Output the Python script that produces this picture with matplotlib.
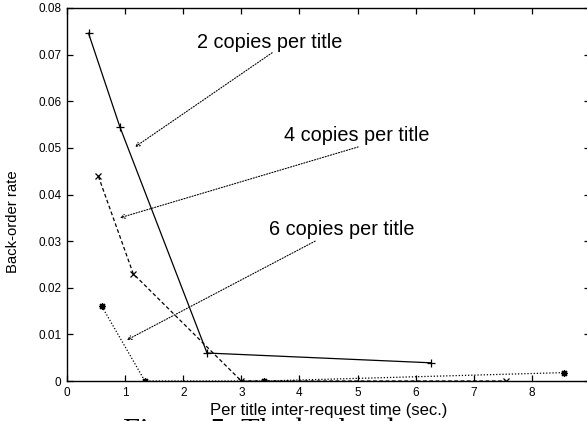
import matplotlib
matplotlib.use("Agg")
import matplotlib.pyplot as plt

plt.rcParams['font.family'] = ['Liberation Sans', 'DejaVu Sans']

# back-order rate vs. per-title inter-request time, for 2/4/6 copies per title
x_2copies = [0.37, 0.91, 2.41, 6.27]
y_2copies = [0.0746, 0.0545, 0.0060, 0.0039]

x_4copies = [0.54, 1.14, 3.0, 7.55]
y_4copies = [0.0439, 0.0230, 0.0, 0.0]

x_6copies = [0.60, 1.34, 3.39, 8.55]
y_6copies = [0.0160, 0.0, 0.0, 0.0018]

labels = ['2 copies per title', '4 copies per title', '6 copies per title']
label_xy = [(3.49, 0.0727), (4.99, 0.0526), (4.72, 0.0326)]
arrow_tail = [(3.53, 0.0704), (5.01, 0.0502), (4.27, 0.0300)]
arrow_head = [(1.17, 0.0502), (0.91, 0.0350), (1.03, 0.0088)]

xticks = [0, 1, 2, 3, 4, 5, 6, 7, 8]
yticks = [0, 0.01, 0.02, 0.03, 0.04, 0.05, 0.06, 0.07, 0.08]

fig = plt.figure(figsize=(5.87, 4.21), dpi=100)
ax = fig.add_axes([67/587, 40/421, 523/587, 373/421])

ax.plot(x_2copies, y_2copies, color='black', lw=0.9, ls='-',
        marker='+', ms=6, mew=0.9)
ax.plot(x_4copies, y_4copies, color='black', lw=0.9, ls=(0, (3, 2)),
        marker='x', ms=4.5, mew=0.9)
ax.plot(x_6copies, y_6copies, color='black', lw=0.9, ls=(0, (1, 1.5)),
        marker=(8, 2, 0), ms=5, mew=0.9)

for txt, (tx, ty), tail, head in zip(labels, label_xy, arrow_tail, arrow_head):
    ax.text(tx, ty, txt, fontsize=14.3, ha='center', va='center')
    ax.annotate('', xy=head, xytext=tail,
                arrowprops=dict(arrowstyle='->', color='black', lw=0.8,
                                ls=(0, (1, 1.5)), shrinkA=0, shrinkB=0,
                                mutation_scale=7))

ax.set_xlim(0, 9)
ax.set_ylim(0, 0.08)
ax.set_xticks(xticks)
ax.set_yticks(yticks)
ax.set_xticklabels([str(t) for t in xticks])
ax.set_yticklabels(['0' if t == 0 else f'{t:.2f}' for t in yticks])
ax.tick_params(direction='in', length=4, width=0.9, labelsize=8.5,
               top=True, right=True, pad=4)
for s in ax.spines.values():
    s.set_linewidth(1.0)

ax.set_xlabel('Per title inter-request time (sec.)', fontsize=12, labelpad=3)
ax.set_ylabel('Back-order rate', fontsize=10.7, labelpad=10)
ax.yaxis.set_label_coords(-0.09, 0.426)

# caption sitting below the plot, mostly off the page
fig.text(123/587, -19/421, 'Figure 5: The backorder rate', fontsize=22,
         family=['Liberation Serif', 'DejaVu Serif'], va='baseline')

fig.savefig('out.png', dpi=100)
